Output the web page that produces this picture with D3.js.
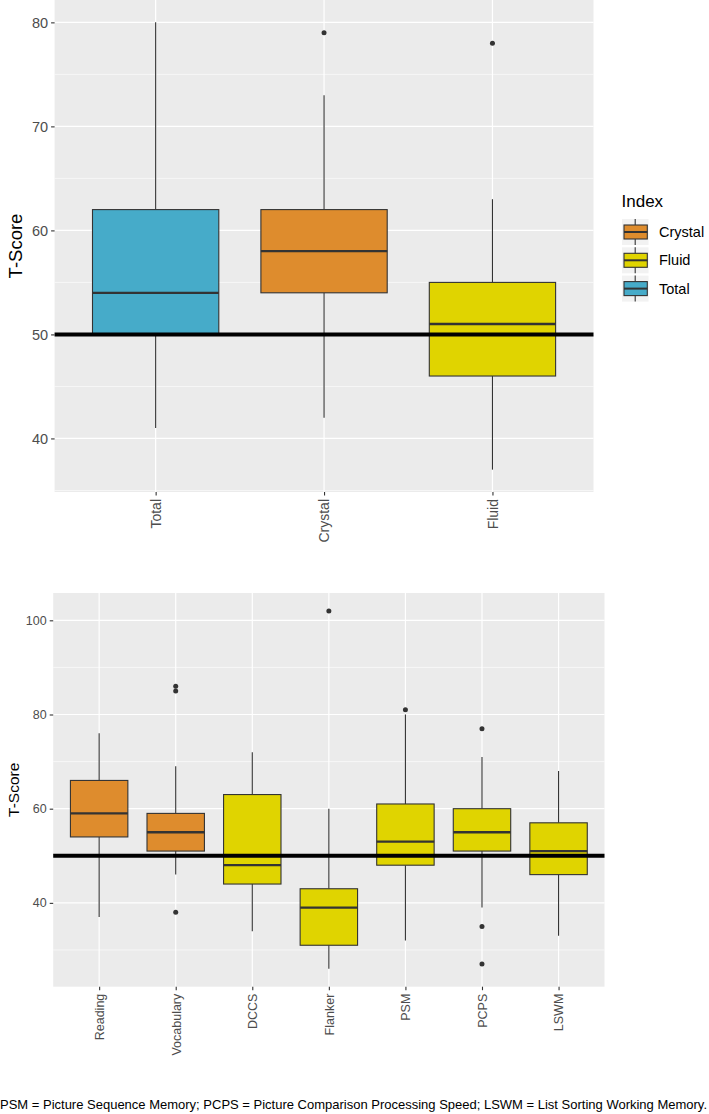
<!DOCTYPE html>
<html>
<head>
<meta charset="utf-8">
<script src="https://cdn.jsdelivr.net/npm/d3@7"></script>
<style>
  html, body { margin: 0; padding: 0; background: #ffffff; }
  svg { display: block; }
  text { font-family: "Liberation Sans", Arial, sans-serif; }
</style>
</head>
<body>
<svg id="chart" width="709" height="1114"></svg>
<script>
// ---------- DATA ----------
const topCategories = ["Total", "Crystal", "Fluid"];
const topIndex = ["Total", "Crystal", "Fluid"];
const topLower = [41, 42, 37];
const topQ1 = [50, 54, 46];
const topMedian = [54, 58, 51];
const topQ3 = [62, 62, 55];
const topUpper = [80, 73, 63];
const topOutliers = [[], [79], [78]];
const topTicks = [40, 50, 60, 70, 80];
const topMinor = [35, 45, 55, 65, 75];

const botCategories = ["Reading", "Vocabulary", "DCCS", "Flanker", "PSM", "PCPS", "LSWM"];
const botIndex = ["Crystal", "Crystal", "Fluid", "Fluid", "Fluid", "Fluid", "Fluid"];
const botLower = [37, 46, 34, 26, 32, 39, 33];
const botQ1 = [54, 51, 44, 31, 48, 51, 46];
const botMedian = [59, 55, 48, 39, 53, 55, 51];
const botQ3 = [66, 59, 63, 43, 61, 60, 57];
const botUpper = [76, 69, 72, 60, 80, 71, 68];
const botOutliers = [[], [86, 85, 38], [], [102], [81], [77, 35, 27], []];
const botTicks = [40, 60, 80, 100];
const botMinor = [30, 50, 70, 90];

const legendLabels = ["Crystal", "Fluid", "Total"];
const indexColors = ["#DE8C2D", "#E0D400", "#46ABC9"];
const referenceValue = 50;
const yTitle = "T-Score";
const legendTitle = "Index";
const caption = "PSM = Picture Sequence Memory; PCPS = Picture Comparison Processing Speed; LSWM = List Sorting Working Memory.";

// ---------- HELPERS ----------
const svg = d3.select("#chart");
const color = d3.scaleOrdinal().domain(legendLabels).range(indexColors);

function drawPanel(cfg) {
  const { cats, idx, lower, q1, med, q3, upper, outl, ticks, minor,
          left, right, top, bottom, tickFont, xFont, titleFont, titleX } = cfg;
  const allVals = lower.concat(upper, outl.flat());
  const lo = d3.min(allVals), hi = d3.max(allVals);
  const pad = (hi - lo) * 0.05;
  const y = d3.scaleLinear().domain([lo - pad, hi + pad]).range([bottom, top]);
  const x = d3.scalePoint().domain(cats).range([left, right]).padding(0.6);
  const bw = x.step() * 0.75;

  const g = svg.append("g");
  g.append("rect").attr("x", left).attr("y", top)
    .attr("width", right - left).attr("height", bottom - top).attr("fill", "#EBEBEB");

  // minor grid
  g.selectAll(".minor").data(minor.filter(v => y(v) >= top && y(v) <= bottom)).enter()
    .append("line").attr("x1", left).attr("x2", right)
    .attr("y1", d => y(d)).attr("y2", d => y(d))
    .attr("stroke", "#ffffff").attr("stroke-width", 0.6);
  // major grid
  g.selectAll(".major").data(ticks).enter()
    .append("line").attr("x1", left).attr("x2", right)
    .attr("y1", d => y(d)).attr("y2", d => y(d))
    .attr("stroke", "#ffffff").attr("stroke-width", 1.2);
  g.selectAll(".vmajor").data(cats).enter()
    .append("line").attr("y1", top).attr("y2", bottom)
    .attr("x1", d => x(d)).attr("x2", d => x(d))
    .attr("stroke", "#ffffff").attr("stroke-width", 1.2);

  // boxes
  cats.forEach((c, i) => {
    const cx = x(c);
    const bg = g.append("g");
    bg.append("line").attr("x1", cx).attr("x2", cx)
      .attr("y1", y(upper[i])).attr("y2", y(q3[i]))
      .attr("stroke", "#333333").attr("stroke-width", 1.1);
    bg.append("line").attr("x1", cx).attr("x2", cx)
      .attr("y1", y(q1[i])).attr("y2", y(lower[i]))
      .attr("stroke", "#333333").attr("stroke-width", 1.1);
    bg.append("rect").attr("x", cx - bw / 2).attr("y", y(q3[i]))
      .attr("width", bw).attr("height", y(q1[i]) - y(q3[i]))
      .attr("fill", color(idx[i])).attr("stroke", "#333333").attr("stroke-width", 1.1);
    bg.append("line").attr("x1", cx - bw / 2).attr("x2", cx + bw / 2)
      .attr("y1", y(med[i])).attr("y2", y(med[i]))
      .attr("stroke", "#333333").attr("stroke-width", 2.3);
    bg.selectAll("circle").data(outl[i]).enter().append("circle")
      .attr("cx", cx).attr("cy", d => y(d)).attr("r", 2.5).attr("fill", "#333333");
  });

  // reference line
  g.append("line").attr("x1", left).attr("x2", right)
    .attr("y1", y(referenceValue)).attr("y2", y(referenceValue))
    .attr("stroke", "#000000").attr("stroke-width", 4);

  // y axis
  const yAxis = d3.axisLeft(y).tickValues(ticks).tickSize(3.5).tickPadding(3);
  const ya = g.append("g").attr("transform", `translate(${left},0)`).call(yAxis);
  ya.select(".domain").remove();
  ya.selectAll(".tick line").attr("stroke", "#333333").attr("stroke-width", 1.1);
  ya.selectAll(".tick text").attr("fill", "#4D4D4D")
    .style("font-family", '"Liberation Sans", Arial, sans-serif').style("font-size", tickFont + "px");

  // x axis
  const xAxis = d3.axisBottom(x).tickSize(3.5).tickPadding(3);
  const xa = g.append("g").attr("transform", `translate(0,${bottom})`).call(xAxis);
  xa.select(".domain").remove();
  xa.selectAll(".tick line").attr("stroke", "#333333").attr("stroke-width", 1.1);
  xa.selectAll(".tick text").attr("fill", "#4D4D4D")
    .style("font-family", '"Liberation Sans", Arial, sans-serif').style("font-size", xFont + "px")
    .attr("transform", "rotate(-90)")
    .attr("x", -7).attr("y", 0).attr("dy", "0.35em")
    .attr("text-anchor", "end");

  // y title
  g.append("text")
    .attr("transform", `translate(${titleX},${(top + bottom) / 2}) rotate(-90)`)
    .attr("text-anchor", "middle").attr("fill", "#000000")
    .style("font-size", titleFont + "px").text(yTitle);
}

drawPanel({
  cats: topCategories, idx: topIndex, lower: topLower, q1: topQ1, med: topMedian,
  q3: topQ3, upper: topUpper, outl: topOutliers, ticks: topTicks, minor: topMinor,
  left: 54.6, right: 593.5, top: 0, bottom: 492, tickFont: 14.5, xFont: 14, titleFont: 18.5, titleX: 22
});

drawPanel({
  cats: botCategories, idx: botIndex, lower: botLower, q1: botQ1, med: botMedian,
  q3: botQ3, upper: botUpper, outl: botOutliers, ticks: botTicks, minor: botMinor,
  left: 53.2, right: 604.5, top: 593, bottom: 986.7, tickFont: 12.5, xFont: 12.5, titleFont: 15.5, titleX: 19
});

// ---------- LEGEND ----------
const lg = svg.append("g");
lg.append("text").attr("x", 621.5).attr("y", 206.5).attr("fill", "#000000")
  .style("font-size", "17px").text(legendTitle);
const keyY = d3.scalePoint().domain(legendLabels).range([232, 288.6]);
legendLabels.forEach(l => {
  const cy = keyY(l);
  lg.append("rect").attr("x", 622).attr("y", cy - 13).attr("width", 26.5).attr("height", 26)
    .attr("fill", "#F2F2F2");
  lg.append("line").attr("x1", 635.2).attr("x2", 635.2).attr("y1", cy - 13).attr("y2", cy + 13)
    .attr("stroke", "#333333").attr("stroke-width", 1.1);
  lg.append("rect").attr("x", 624).attr("y", cy - 7).attr("width", 23.3).attr("height", 14)
    .attr("fill", color(l)).attr("stroke", "#333333").attr("stroke-width", 1.1);
  lg.append("line").attr("x1", 624).attr("x2", 647.3).attr("y1", cy).attr("y2", cy)
    .attr("stroke", "#333333").attr("stroke-width", 2);
  lg.append("text").attr("x", 659).attr("y", cy).attr("dy", "0.35em").attr("fill", "#000000")
    .style("font-size", "14.5px").text(l);
});

// ---------- CAPTION ----------
svg.append("text").attr("x", 0).attr("y", 1109.3).attr("fill", "#000000")
  .style("font-size", "13px").attr("textLength", 707).attr("lengthAdjust", "spacingAndGlyphs")
  .text(caption);
</script>
</body>
</html>
